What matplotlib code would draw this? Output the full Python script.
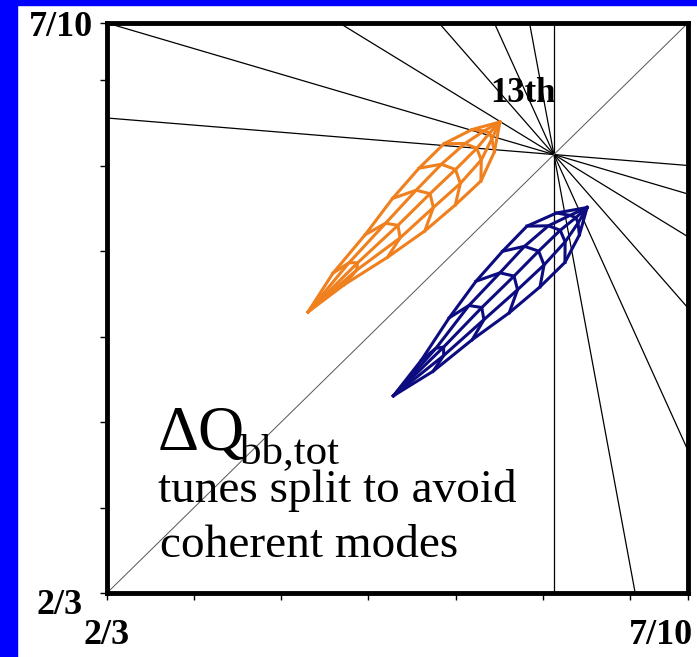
import numpy as np
import matplotlib.pyplot as plt
from matplotlib.patches import Rectangle
from matplotlib.transforms import ScaledTranslation

# tune window
q_lo, q_hi = 2/3, 7/10

# resonance lines m*Qx + n*Qy = p  (13th order through 9/13, plus Qx = Qy)
res_m = [1, 3, 5, 7, 9, 11, 13, 1]
res_n = [12, 10, 8, 6, 4, 2, 0, -1]
res_p = [9, 9, 9, 9, 9, 9, 9, 0]

## footprint beam 1 (orange): amplitude rings x angles, plus tail and tip
orange_tail = (0.67820, 0.68310)
orange_tip = (0.68921, 0.69421)
orange_qx = [
    [0.67963, 0.68055, 0.68105, 0.68098, 0.68028],
    [0.68148, 0.68265, 0.68336, 0.68348, 0.68276],
    [0.68305, 0.68440, 0.68520, 0.68539, 0.68490],
    [0.68457, 0.68585, 0.68666, 0.68694, 0.68665],
    [0.68600, 0.68720, 0.68788, 0.68814, 0.68812],
    [0.68761, 0.68830, 0.68862, 0.68875, 0.68889],
]
orange_qy = [
    [0.68537, 0.68598, 0.68598, 0.68554, 0.68470],
    [0.68762, 0.68829, 0.68817, 0.68743, 0.68630],
    [0.68974, 0.69022, 0.69002, 0.68921, 0.68784],
    [0.69151, 0.69174, 0.69143, 0.69062, 0.68936],
    [0.69294, 0.69295, 0.69267, 0.69199, 0.69076],
    [0.69377, 0.69369, 0.69357, 0.69323, 0.69246],
]

## footprint beam 2 (blue), split to the other side of the diagonal
blue_tail = (0.68310, 0.67820)
blue_tip = (0.69421, 0.68921)
blue_qx = [
    [0.68537, 0.68598, 0.68598, 0.68554, 0.68470],
    [0.68762, 0.68829, 0.68817, 0.68743, 0.68630],
    [0.68974, 0.69022, 0.69002, 0.68921, 0.68784],
    [0.69151, 0.69174, 0.69143, 0.69062, 0.68936],
    [0.69294, 0.69295, 0.69267, 0.69199, 0.69076],
    [0.69377, 0.69369, 0.69357, 0.69323, 0.69246],
]
blue_qy = [
    [0.67963, 0.68055, 0.68105, 0.68098, 0.68028],
    [0.68148, 0.68265, 0.68336, 0.68348, 0.68276],
    [0.68305, 0.68440, 0.68520, 0.68539, 0.68490],
    [0.68457, 0.68585, 0.68666, 0.68694, 0.68665],
    [0.68600, 0.68720, 0.68788, 0.68814, 0.68812],
    [0.68761, 0.68830, 0.68862, 0.68875, 0.68889],
]

serif = 'Liberation Serif'

fig = plt.figure(figsize=(6.97, 6.57), dpi=100)
fig.patches.append(Rectangle((0, 0), 17/697, 1, transform=fig.transFigure,
                             color='#0000ff', zorder=0))
fig.patches.append(Rectangle((0, 1 - 5/657), 1, 5/657, transform=fig.transFigure,
                             color='#0000ff', zorder=0))

ax = fig.add_axes([107/697, 64/657, 581/697, 570/657])

for m, n, p in zip(res_m, res_n, res_p):
    if n == 0:
        ax.axvline(p/m, color='black', lw=0.9)
    else:
        qx = np.array([q_lo, q_hi])
        if p == 0:
            ax.plot(qx, (p - m*qx)/n, color='#555555', lw=0.7)
        else:
            ax.plot(qx, (p - m*qx)/n, color='black', lw=0.9)


def footprint(qx, qy, tail, tip, color):
    qx = np.array(qx)
    qy = np.array(qy)
    for i in range(len(qx)):
        ax.plot(qx[i], qy[i], color=color, lw=2.2, solid_joinstyle='round')
    for j in range(qx.shape[1]):
        ax.plot([tail[0], *qx[:, j], tip[0]], [tail[1], *qy[:, j], tip[1]],
                color=color, lw=2.2, solid_joinstyle='round')


footprint(orange_qx, orange_qy, orange_tail, orange_tip, '#f0801e')
footprint(blue_qx, blue_qy, blue_tail, blue_tip, '#0c0c80')

ax.set_xlim(q_lo, q_hi)
ax.set_ylim(q_lo, q_hi)

ticks = list(np.arange(q_lo, q_hi - 1e-9, 0.005)) + [q_hi]
tick_labels = ['2/3'] + [''] * 6 + ['7/10']
ax.set_xticks(ticks)
ax.set_xticklabels(tick_labels)
ax.set_yticks(ticks)
ax.set_yticklabels(tick_labels)
ax.tick_params(direction='out', length=5, width=1)
ax.tick_params(axis='x', pad=14)
ax.tick_params(axis='y', pad=5)
for lab in ax.get_xticklabels() + ax.get_yticklabels():
    lab.set_fontfamily(serif)
    lab.set_fontsize(26)
    lab.set_fontweight('bold')
xl = ax.get_xticklabels()[-1]
xl.set_horizontalalignment('right')
xl.set_transform(xl.get_transform() + ScaledTranslation(0.05, 0, fig.dpi_scale_trans))
yl = ax.get_yticklabels()[0]
yl.set_transform(yl.get_transform() + ScaledTranslation(-0.10, -0.08, fig.dpi_scale_trans))

for sp in ax.spines.values():
    sp.set_linewidth(3.5)

ax.text(0.716, 0.861, '13th', transform=ax.transAxes, ha='center', va='baseline',
        fontsize=25, fontweight='bold', family=serif)
ax.text(0.0878, 0.2509, 'ΔQ', transform=ax.transAxes, va='baseline',
        fontsize=46, family=serif)
ax.text(0.2289, 0.2281, 'bb,tot', transform=ax.transAxes, va='baseline',
        fontsize=31, family=serif)
ax.text(0.0878, 0.1596, 'tunes split to avoid', transform=ax.transAxes,
        va='baseline', fontsize=34, family=serif)
ax.text(0.0912, 0.0632, 'coherent modes', transform=ax.transAxes,
        va='baseline', fontsize=34, family=serif)

plt.savefig('out.png', dpi=100)
